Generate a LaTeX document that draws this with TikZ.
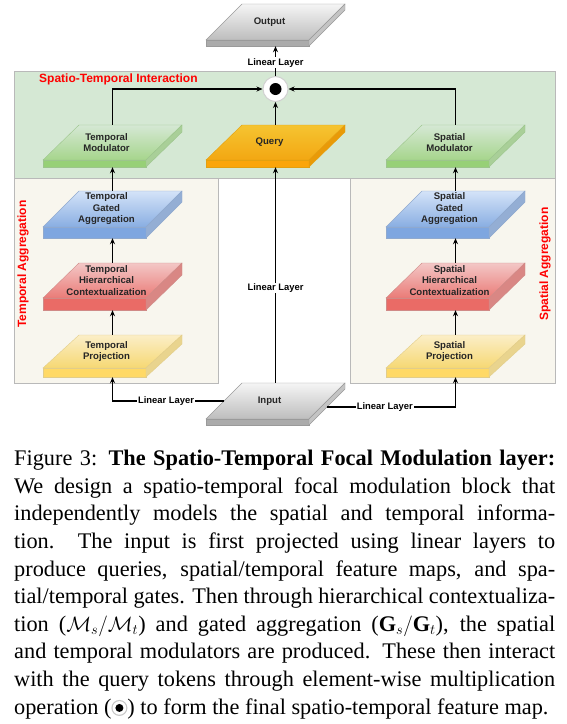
\documentclass[tikz,border=0pt]{standalone}
\usepackage{fontspec}
\setmainfont{Liberation Serif}
\setsansfont{Liberation Sans}
\usetikzlibrary{arrows.meta}
% colour sets: T top, B bottom of surface, F front, S side, L line
\definecolor{grT}{HTML}{F5F5F5}\definecolor{grB}{HTML}{BDBDBD}\definecolor{grF}{HTML}{ABABAB}\definecolor{grS}{HTML}{C4C4C4}\definecolor{grL}{HTML}{9A9A9A}
\definecolor{gnT}{HTML}{D5E8D4}\definecolor{gnB}{HTML}{A6D58C}\definecolor{gnF}{HTML}{97D077}\definecolor{gnS}{HTML}{A9CF98}\definecolor{gnL}{HTML}{9CC58C}
\definecolor{orT}{HTML}{F5C431}\definecolor{orB}{HTML}{F3A712}\definecolor{orF}{HTML}{FBA50A}\definecolor{orS}{HTML}{E99A08}\definecolor{orL}{HTML}{E3A010}
\definecolor{blT}{HTML}{D4E3F8}\definecolor{blB}{HTML}{89AEE2}\definecolor{blF}{HTML}{7EA6E0}\definecolor{blS}{HTML}{94AED4}\definecolor{blL}{HTML}{8FA9CF}
\definecolor{rdT}{HTML}{F3C7C6}\definecolor{rdB}{HTML}{EA7B77}\definecolor{rdF}{HTML}{EA6B66}\definecolor{rdS}{HTML}{D98784}\definecolor{rdL}{HTML}{D08A87}
\definecolor{ylT}{HTML}{FBEEC7}\definecolor{ylB}{HTML}{F6D873}\definecolor{ylF}{HTML}{FFD966}\definecolor{ylS}{HTML}{E9D48E}\definecolor{ylL}{HTML}{E2CD89}
\definecolor{zoneGreen}{HTML}{D5E8D4}
\definecolor{zoneBeige}{HTML}{F8F6EE}
\definecolor{zoneLine}{HTML}{B9B9B9}
\tikzset{
  lbl/.style={font=\sffamily\bfseries\fontsize{9.4}{10}\selectfont, fill=white, inner sep=1pt},
  slabtext/.style={font=\sffamily\bfseries\fontsize{9.6}{11.5}\selectfont, align=center, text=black!85, inner sep=0pt},
  conn/.style={line width=1.3pt, -{Stealth[length=6pt,width=5pt]}},
  regionlbl/.style={font=\sffamily\bfseries\fontsize{12}{13}\selectfont, text=red, inner sep=0pt},
  anchorbox/.style={inner sep=0pt, minimum width=139},
}
% #1 name, #2 left x, #3 top y, #4 surface height, #5 thickness, #6 colour prefix, #7 text
\newcommand\slab[7]{%
  \shade[top color=#6T, bottom color=#6B, draw=#6L, line width=0.4pt]
    (#2+36,#3) -- (#2+139,#3) -- (#2+103,#3+#4) -- (#2,#3+#4) -- cycle;
  \filldraw[fill=#6F, draw=#6L, line width=0.4pt] (#2,#3+#4) rectangle (#2+103,#3+#4+#5);
  \filldraw[fill=#6S, draw=#6L, line width=0.4pt]
    (#2+103,#3+#4) -- (#2+139,#3) -- (#2+139,#3+#5) -- (#2+103,#3+#4+#5) -- cycle;
  \node[slabtext] at (#2+63.5,#3+#4/2) {#7};
  \node[anchorbox, minimum height=#4+#5] (#1) at (#2+69.5,#3+#4/2+#5/2) {};
}
\begin{document}
\begin{tikzpicture}[x=1pt,y=-1pt]
\useasboundingbox (0,0) rectangle (566,724);
\fill[white] (0,0) rectangle (566,724);
% regions
\filldraw[fill=zoneGreen, draw=zoneLine, line width=0.6pt] (14,71) rectangle (555,178);
\filldraw[fill=zoneBeige, draw=zoneLine, line width=0.6pt] (14,178) rectangle (218,383);
\filldraw[fill=zoneBeige, draw=zoneLine, line width=0.6pt] (350,178) rectangle (555,383);
\node[regionlbl, anchor=west] (stlbl) at (39,79) {Spatio-Temporal Interaction};
\node[regionlbl, rotate=90] (talbl) at (23,264) {Temporal Aggregation};
\node[regionlbl, rotate=90] (salbl) at (545,264) {Spatial Aggregation};
% blocks
\slab{output}{206}{4}{36}{6}{gr}{Output}
\slab{tmod}{43}{125}{35}{7}{gn}{Temporal\\Modulator}
\slab{query}{206}{125}{35}{7}{or}{Query}
\slab{smod}{386}{125}{35}{7}{gn}{Spatial\\Modulator}
\slab{tga}{43}{191}{36}{11}{bl}{Temporal\\Gated\\Aggregation}
\slab{sga}{386}{191}{36}{11}{bl}{Spatial\\Gated\\Aggregation}
\slab{thc}{43}{263}{35}{12}{rd}{Temporal\\Hierarchical\\Contextualization}
\slab{shc}{386}{263}{35}{12}{rd}{Spatial\\Hierarchical\\Contextualization}
\slab{tpr}{43}{335}{33}{9}{yl}{Temporal\\Projection}
\slab{spr}{386}{335}{33}{9}{yl}{Spatial\\Projection}
\slab{input}{206}{383}{36}{6}{gr}{Input}
% multiplication node
\node[circle, minimum size=25pt, inner sep=0pt, fill=white, draw=black!18, line width=1pt] (mul) at (275.5,89) {};
\fill[black] (mul.center) circle (6pt);
% connectors
\coordinate (inL) at (224,401);
\coordinate (inR) at (327,407);
\draw[conn] (input.north) -- node[lbl, pos=0.44] {Linear Layer} (query.south);
\draw[conn] (inL) -| node[lbl, pos=0.26] {Linear Layer} (tpr.south);
\draw[conn] (inR) -| node[lbl, pos=0.225] {Linear Layer} (spr.south);
\draw[conn] (tpr.north) -- (thc.south);
\draw[conn] (thc.north) -- (tga.south);
\draw[conn] (tga.north) -- (tmod.south);
\draw[conn] (spr.north) -- (shc.south);
\draw[conn] (shc.north) -- (sga.south);
\draw[conn] (sga.north) -- (smod.south);
\draw[conn] (tmod.north) |- (mul.west);
\draw[conn] (smod.north) |- (mul.east);
\draw[conn] (query.north) -- (mul.south);
\draw[conn] (mul.north) -- node[lbl, pos=0.45] {Linear Layer} (output.south);
% caption
\node[anchor=north west, inner sep=0pt, align=left, font=\fontsize{22.3}{27.6}\selectfont] (caption) at (14,450) {%
\makebox[541pt][s]{Figure 3: \textbf{The Spatio-Temporal Focal Modulation layer:}}\\
\makebox[541pt][s]{We design a spatio-temporal focal modulation block that}\\
\makebox[541pt][s]{independently models the spatial and temporal informa-}\\
\makebox[541pt][s]{tion.\ \ The input is first projected using linear layers to}\\
\makebox[541pt][s]{produce queries, spatial/temporal feature maps, and spa-}\\
\makebox[541pt][s]{tial/temporal gates. Then through hierarchical contextualiza-}\\
\makebox[541pt][s]{tion ($\mathcal{M}_s/\mathcal{M}_t$) and gated aggregation ($\mathbf{G}_s/\mathbf{G}_t$), the spatial}\\
\makebox[541pt][s]{and temporal modulators are produced. These then interact}\\
\makebox[541pt][s]{with the query tokens through element-wise multiplication}\\
operation (\tikz[baseline=-0.6ex]{\fill[black!22] (0pt,0pt) circle (8pt); \fill[white] (0pt,0pt) circle (6.8pt); \fill[black] (0pt,0pt) circle (4pt);}) to form the final spatio-temporal feature map.};
\end{tikzpicture}
\end{document}
